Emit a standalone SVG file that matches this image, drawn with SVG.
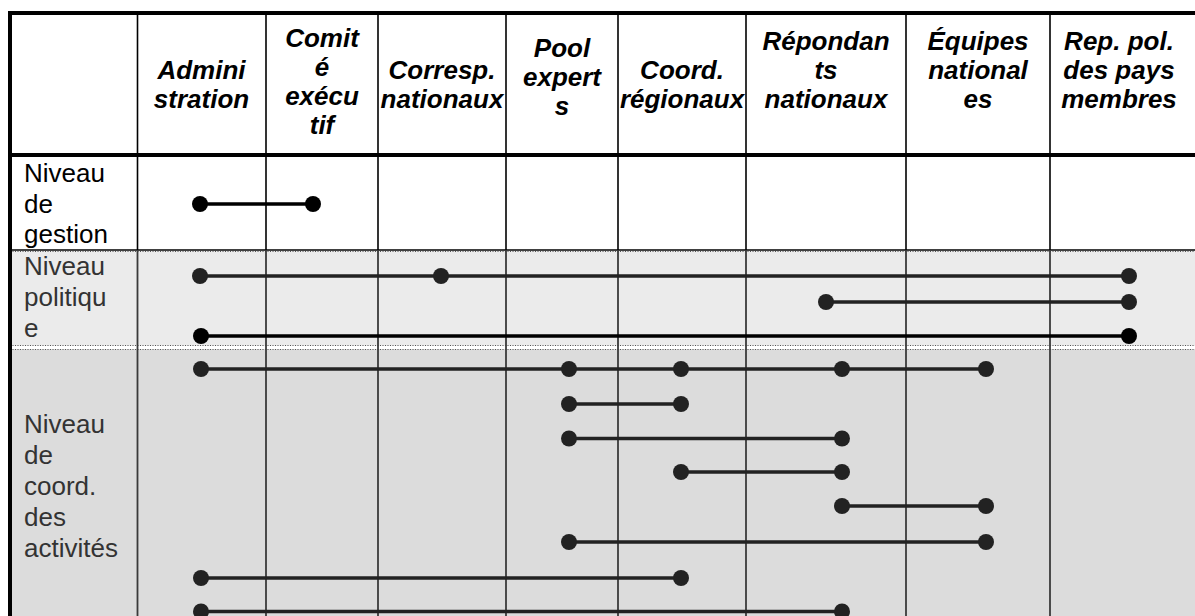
<svg xmlns="http://www.w3.org/2000/svg" width="1195" height="616" viewBox="0 0 1195 616">
<style>
.hd{font-family:"Liberation Sans",Arial,sans-serif;font-size:26px;font-weight:bold;font-style:italic;fill:#000;text-anchor:middle}
.lb{font-family:"Liberation Sans",Arial,sans-serif;font-size:26px;fill:#000}
.lbg{font-family:"Liberation Sans",Arial,sans-serif;font-size:26px;fill:#333}
.col{stroke:#000;stroke-width:1.6}
.colg{stroke:#3a3a3a;stroke-width:1.8}
.dot{stroke:#555;stroke-width:1;stroke-dasharray:1 1.5}
.ln{stroke:#222;stroke-width:3.5;fill:none}
.lnb{stroke:#000;stroke-width:3.5;fill:none}
.d{fill:#222}
.db{fill:#000}
</style>
<rect x="0" y="0" width="1195" height="616" fill="#fff"/>
<g id="backgrounds">
<rect x="10" y="251" width="1185" height="95" fill="#ebebeb"/>
<rect x="10" y="349" width="1185" height="267" fill="#dcdcdc"/>
<line class="dot" x1="10" y1="251.5" x2="1195" y2="251.5"/>
<line class="dot" x1="10" y1="345.5" x2="1195" y2="345.5"/>
<line class="dot" x1="10" y1="349.5" x2="1195" y2="349.5"/>
</g>
<g id="grid">
<line class="col" x1="10" y1="250" x2="1195" y2="250"/>
<g>
<line class="col" x1="137.5" y1="13" x2="137.5" y2="250"/>
<line class="col" x1="266" y1="13" x2="266" y2="250"/>
<line class="col" x1="378" y1="13" x2="378" y2="250"/>
<line class="col" x1="506" y1="13" x2="506" y2="250"/>
<line class="col" x1="618" y1="13" x2="618" y2="250"/>
<line class="col" x1="746" y1="13" x2="746" y2="250"/>
<line class="col" x1="906" y1="13" x2="906" y2="250"/>
<line class="col" x1="1050" y1="13" x2="1050" y2="250"/>
</g>
<g>
<line class="colg" x1="137.5" y1="250" x2="137.5" y2="616"/>
<line class="colg" x1="266" y1="250" x2="266" y2="616"/>
<line class="colg" x1="378" y1="250" x2="378" y2="616"/>
<line class="colg" x1="506" y1="250" x2="506" y2="616"/>
<line class="colg" x1="618" y1="250" x2="618" y2="616"/>
<line class="colg" x1="746" y1="250" x2="746" y2="616"/>
<line class="colg" x1="906" y1="250" x2="906" y2="616"/>
<line class="colg" x1="1050" y1="250" x2="1050" y2="616"/>
</g>
<line x1="8" y1="13" x2="1195" y2="13" stroke="#000" stroke-width="4"/>
<line x1="10" y1="155" x2="1195" y2="155" stroke="#000" stroke-width="4"/>
<line x1="10" y1="11" x2="10" y2="616" stroke="#000" stroke-width="4"/>
</g>
<g id="header">
<text class="hd" x="201.5"><tspan x="201.5" y="79">Admini</tspan><tspan x="201.5" y="108">stration</tspan></text>
<text class="hd" x="322"><tspan x="322" y="47">Comit</tspan><tspan x="322" y="76">é</tspan><tspan x="322" y="105">exécu</tspan><tspan x="322" y="134">tif</tspan></text>
<text class="hd" x="442"><tspan x="442" y="79">Corresp.</tspan><tspan x="442" y="108">nationaux</tspan></text>
<text class="hd" x="562"><tspan x="562" y="57">Pool</tspan><tspan x="562" y="86">expert</tspan><tspan x="562" y="115">s</tspan></text>
<text class="hd" x="682"><tspan x="682" y="79">Coord.</tspan><tspan x="682" y="108">régionaux</tspan></text>
<text class="hd" x="826"><tspan x="826" y="50">Répondan</tspan><tspan x="826" y="79">ts</tspan><tspan x="826" y="108">nationaux</tspan></text>
<text class="hd" x="978"><tspan x="978" y="50">Équipes</tspan><tspan x="978" y="79">national</tspan><tspan x="978" y="108">es</tspan></text>
<text class="hd" x="1119"><tspan x="1119" y="50">Rep. pol.</tspan><tspan x="1119" y="79">des pays</tspan><tspan x="1119" y="108">membres</tspan></text>
</g>
<g id="row-gestion">
<text class="lb"><tspan x="24" y="182">Niveau</tspan><tspan x="24" y="213">de</tspan><tspan x="24" y="243">gestion</tspan></text>
</g>
<g id="row-politique">
<text class="lbg"><tspan x="24" y="275">Niveau</tspan><tspan x="24" y="306">politiqu</tspan><tspan x="24" y="337">e</tspan></text>
</g>
<g id="row-activites">
<text class="lbg"><tspan x="24" y="433">Niveau</tspan><tspan x="24" y="464">de</tspan><tspan x="24" y="495">coord.</tspan><tspan x="24" y="526">des</tspan><tspan x="24" y="557">activités</tspan></text>
</g>
<g id="connectors">
<line class="lnb" x1="200" y1="204" x2="313" y2="204"/>
<circle class="db" cx="200" cy="204" r="8"/><circle class="db" cx="313" cy="204" r="8"/>

<line class="ln" x1="200" y1="276" x2="1129" y2="276"/>
<circle class="d" cx="200" cy="276" r="8"/><circle class="d" cx="441" cy="276" r="8"/><circle class="d" cx="1129" cy="276" r="8"/>
<line class="ln" x1="826" y1="302" x2="1129" y2="302"/>
<circle class="d" cx="826" cy="302" r="8"/><circle class="d" cx="1129" cy="302" r="8"/>
<line class="lnb" x1="201" y1="336" x2="1129" y2="336" stroke-width="4"/>
<circle class="db" cx="201" cy="336" r="8"/><circle class="db" cx="1129" cy="336" r="8"/>

<line class="ln" x1="201" y1="369" x2="986" y2="369"/>
<circle class="d" cx="201" cy="369" r="8"/><circle class="d" cx="569" cy="369" r="8"/><circle class="d" cx="681" cy="369" r="8"/><circle class="d" cx="842" cy="369" r="8"/><circle class="d" cx="986" cy="369" r="8"/>
<line class="ln" x1="569" y1="404" x2="681" y2="404"/>
<circle class="d" cx="569" cy="404" r="8"/><circle class="d" cx="681" cy="404" r="8"/>
<line class="ln" x1="569" y1="438.5" x2="842" y2="438.5"/>
<circle class="d" cx="569" cy="438.5" r="8"/><circle class="d" cx="842" cy="438.5" r="8"/>
<line class="ln" x1="681" y1="472" x2="842" y2="472"/>
<circle class="d" cx="681" cy="472" r="8"/><circle class="d" cx="842" cy="472" r="8"/>
<line class="ln" x1="842" y1="506" x2="986" y2="506"/>
<circle class="d" cx="842" cy="506" r="8"/><circle class="d" cx="986" cy="506" r="8"/>
<line class="ln" x1="569" y1="542" x2="986" y2="542"/>
<circle class="d" cx="569" cy="542" r="8"/><circle class="d" cx="986" cy="542" r="8"/>
<line class="ln" x1="201" y1="578" x2="681" y2="578"/>
<circle class="d" cx="201" cy="578" r="8"/><circle class="d" cx="681" cy="578" r="8"/>
<line class="ln" x1="201" y1="611.5" x2="842" y2="611.5"/>
<circle class="d" cx="201" cy="611.5" r="8"/><circle class="d" cx="842" cy="611.5" r="8"/>
</g>
</svg>
